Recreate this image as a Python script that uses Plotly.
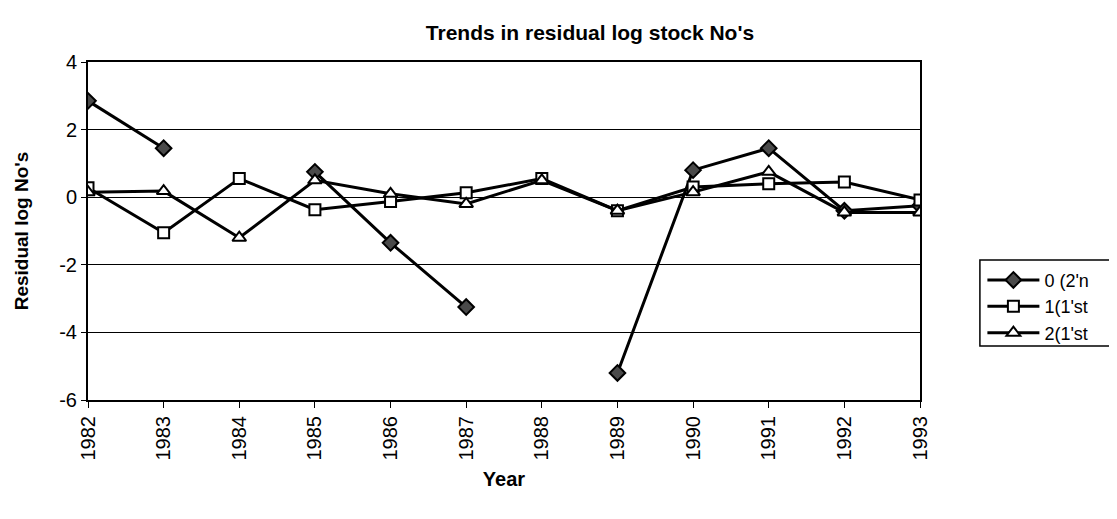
import plotly.graph_objects as go

years = [1982, 1983, 1984, 1985, 1986, 1987, 1988, 1989, 1990, 1991, 1992, 1993]
series_names = ["0 (2'n", "1(1'st", "2(1'st"]
s0 = [2.85, 1.45, None, 0.75, -1.35, -3.25, None, -5.2, 0.8, 1.45, -0.4, -0.25]
s1 = [0.28, -1.05, 0.55, -0.37, -0.13, 0.13, 0.55, -0.4, 0.3, 0.4, 0.45, -0.08]
s2 = [0.15, 0.18, -1.2, 0.5, 0.1, -0.2, 0.5, -0.4, 0.15, 0.75, -0.45, -0.45]
y_ticks = [-6, -4, -2, 0, 2, 4]
y_ticklabels = ["-6", "-4", "-2", "0", "2", "4"]

FONT = "Arial, Liberation Sans, sans-serif"

fig = go.Figure()
styles = [
    dict(symbol="diamond", fill="#4a4a4a", size=12),
    dict(symbol="square", fill="white", size=11),
    dict(symbol="triangle-up", fill="white", size=12),
]
for name, vals, st in zip(series_names, [s0, s1, s2], styles):
    fig.add_trace(go.Scatter(
        x=years, y=vals, name=name, mode="lines+markers",
        line=dict(color="black", width=3),
        marker=dict(symbol=st["symbol"], size=st["size"], color=st["fill"],
                    line=dict(color="black", width=2)),
        connectgaps=False,
    ))

fig.update_layout(
    width=1117, height=519,
    paper_bgcolor="white", plot_bgcolor="white",
    margin=dict(l=80, r=205, t=54, b=127, autoexpand=False),
    font=dict(family=FONT, size=20, color="black"),
    title=dict(text="<b>Trends in residual log stock No's</b>", x=0.521, xanchor="center",
               y=0.952, yanchor="middle", font=dict(family=FONT, size=21, color="black")),
    showlegend=True,
    legend=dict(x=1.075, xanchor="left", y=0.409, yanchor="top",
                font=dict(family=FONT, size=18, color="black"),
                bgcolor="rgba(0,0,0,0)", borderwidth=0, tracegroupgap=0, itemwidth=52),
    xaxis=dict(range=[1982, 1993], tickmode="array", tickvals=years, ticktext=[str(y) for y in years],
               tickangle=-90, ticks="outside", ticklen=6, tickcolor="black", tickwidth=1,
               showline=True, linecolor="black", linewidth=2, mirror=True, showgrid=False,
               zeroline=False, tickfont=dict(size=20),
               title=dict(text="<b>Year</b>", font=dict(size=20), standoff=12)),
    yaxis=dict(range=[-6, 4], tickmode="array", tickvals=y_ticks, ticktext=y_ticklabels,
               ticks="outside", ticklen=5,
               tickcolor="black", showline=True, linecolor="black", linewidth=2, mirror=True,
               showgrid=True, gridcolor="black", gridwidth=1.3, zeroline=False,
               tickfont=dict(size=20),
               title=dict(text="<b>Residual log No's</b>", font=dict(size=19), standoff=26)),
    shapes=[dict(type="rect", xref="paper", yref="paper", x0=1.072, x1=1.4, y0=0.16, y1=0.414,
                 line=dict(color="black", width=1.5), fillcolor="rgba(0,0,0,0)")],
)

fig.write_html("out.html")
